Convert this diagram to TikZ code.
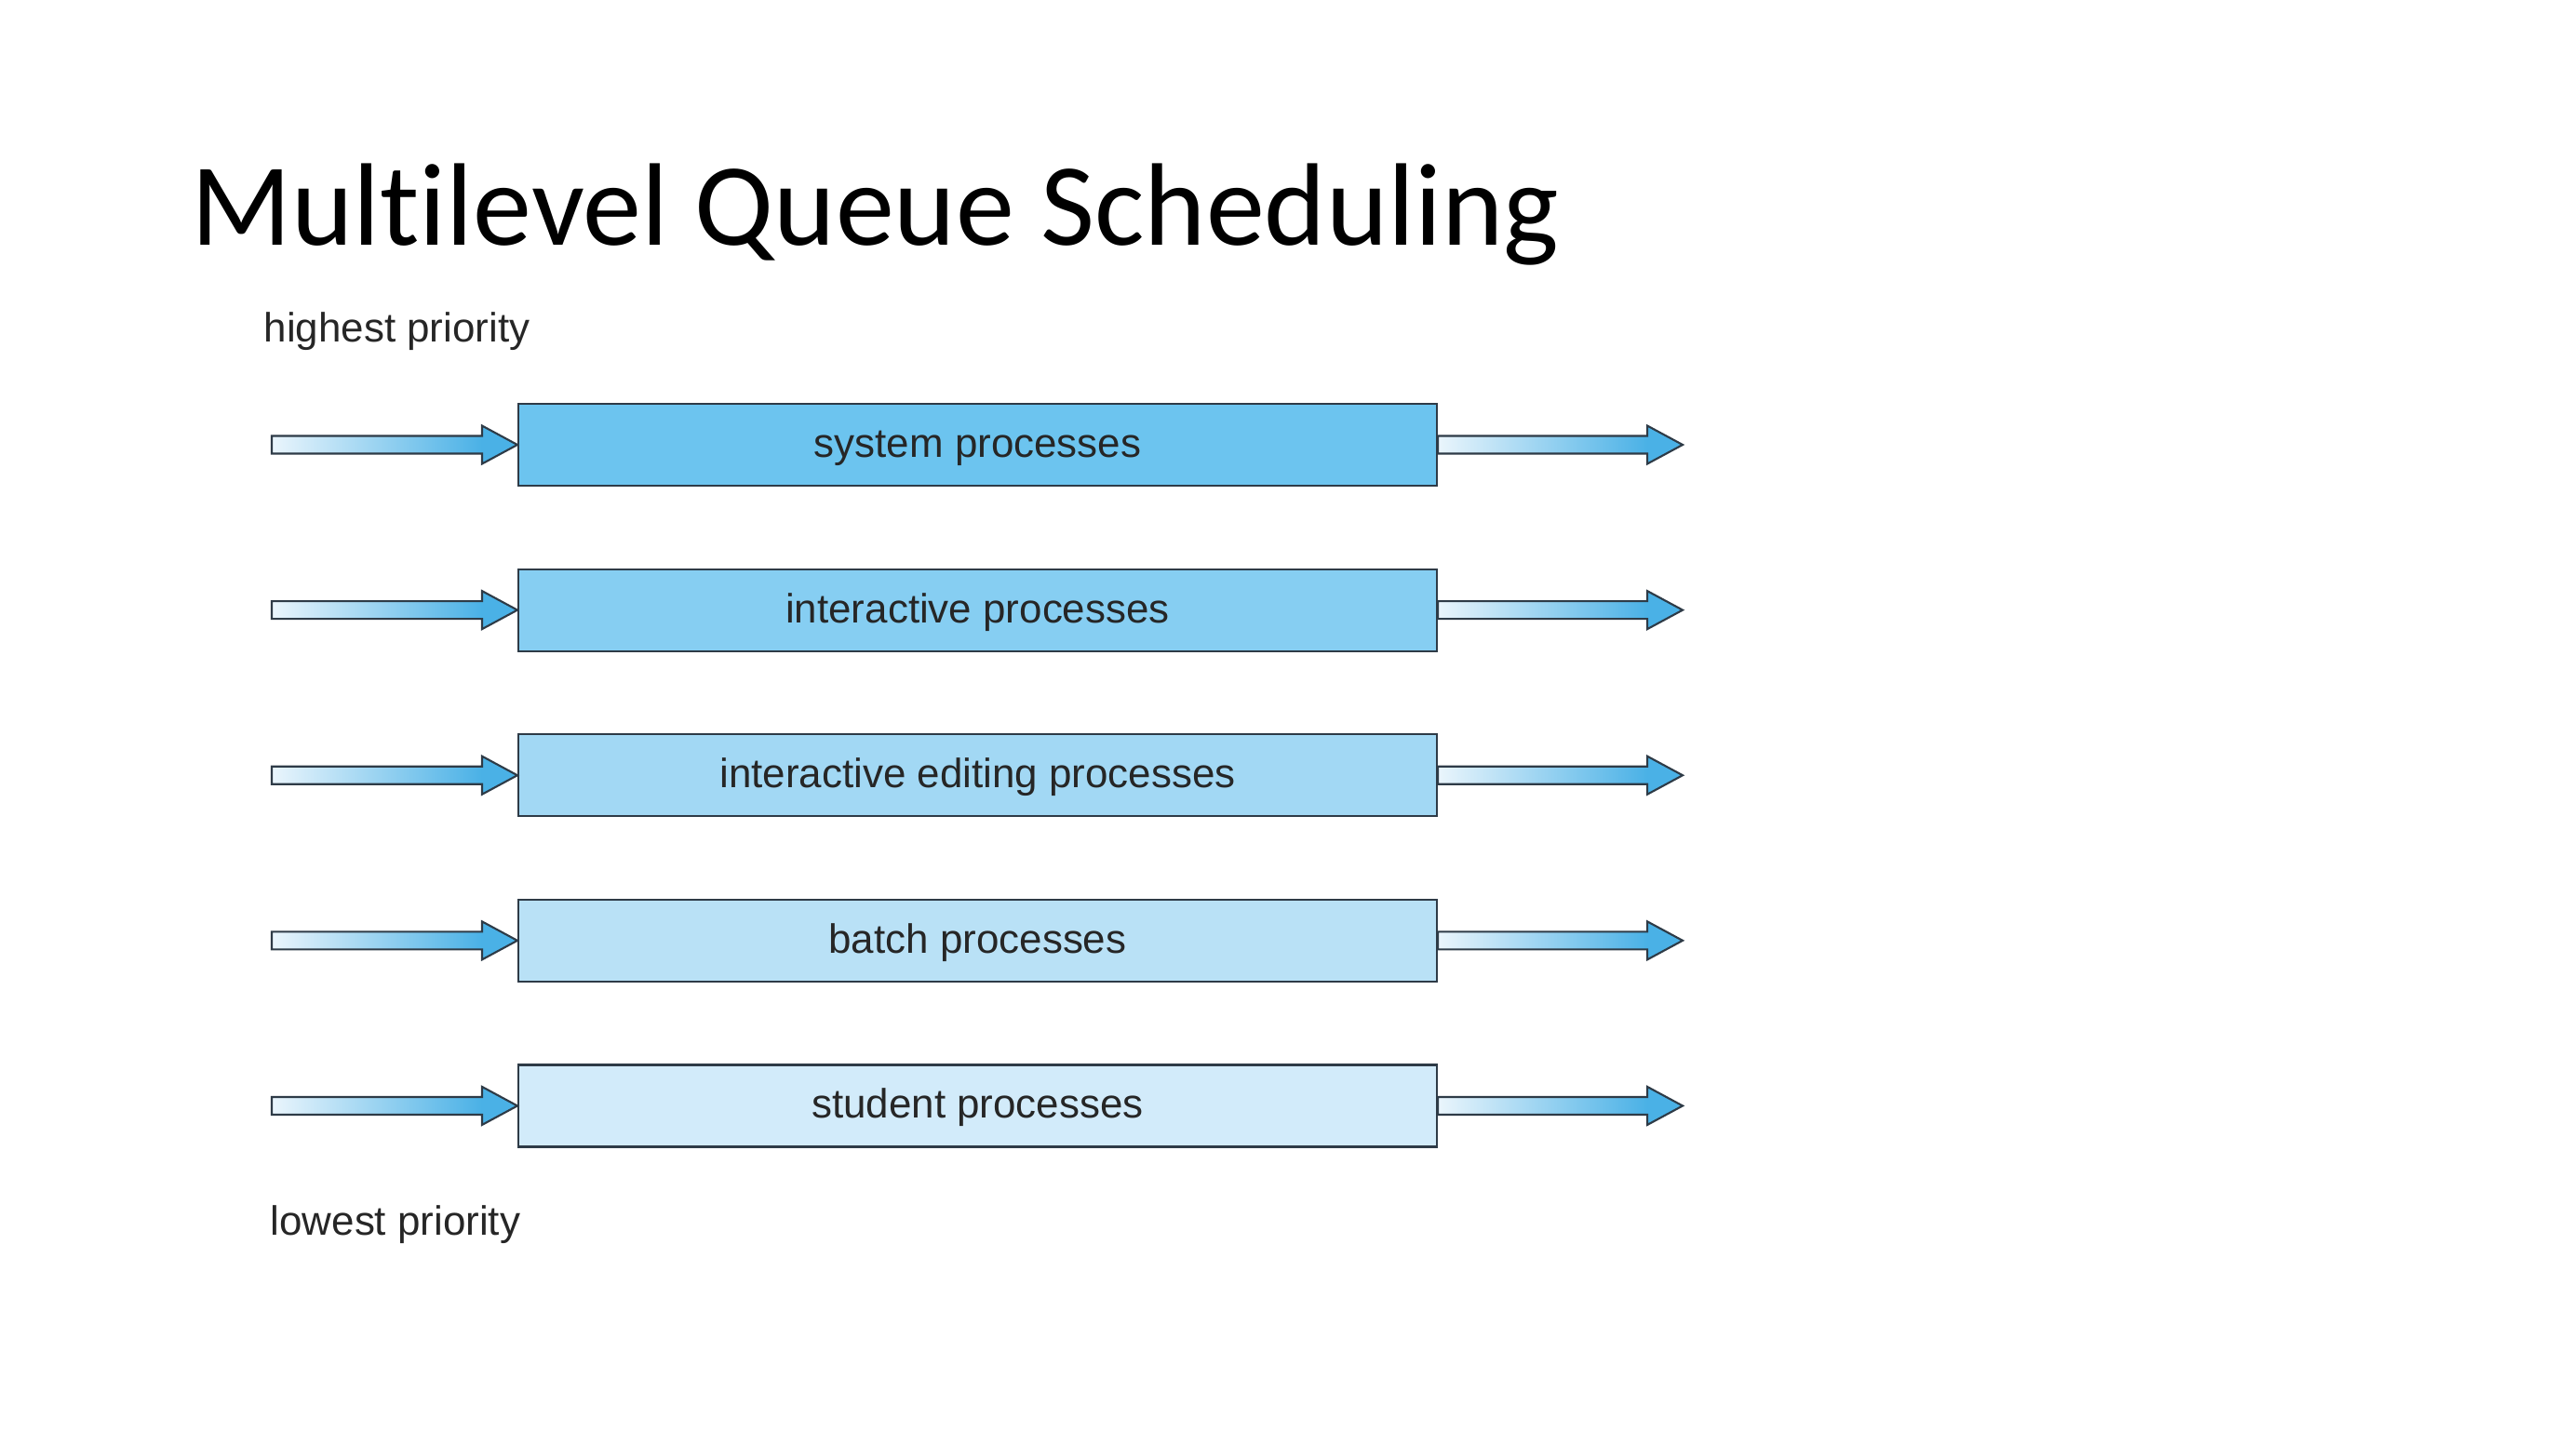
\documentclass[tikz,border=0pt]{standalone}
\usepackage{fontspec}
\setmainfont{Liberation Sans}
\newfontfamily\titlefont[Ligatures=NoCommon]{Carlito}
\usepackage{tikz}
\usetikzlibrary{positioning, calc}

\definecolor{qsys}{HTML}{6CC4EF}
\definecolor{qint}{HTML}{86CEF2}
\definecolor{qedit}{HTML}{A2D8F4}
\definecolor{qbatch}{HTML}{B9E1F6}
\definecolor{qstud}{HTML}{D2EBFA}
\definecolor{arrblue}{HTML}{4AB1E6}
\definecolor{arrlight}{HTML}{EAF5FC}
\definecolor{edgegray}{HTML}{2E3B47}

%% block arrow from #1 to #2 (horizontal)
\newcommand{\blockarrow}[2]{%
    \shade[left color=arrlight, right color=arrblue] let \p1=(#1), \p2=(#2) in
        (\x1,\y1-0.095cm) rectangle (\x2-0.38cm,\y1+0.095cm);
    \fill[arrblue] let \p1=(#1), \p2=(#2) in
        (\x2-0.38cm,\y1-0.205cm) -- (\x2,\y1) -- (\x2-0.38cm,\y1+0.205cm) -- cycle;
    \draw[edge] let \p1=(#1), \p2=(#2) in
        (\x1,\y1-0.095cm) -- (\x2-0.38cm,\y1-0.095cm) -- (\x2-0.38cm,\y1-0.205cm)
        -- (\x2,\y1) -- (\x2-0.38cm,\y1+0.205cm) -- (\x2-0.38cm,\y1+0.095cm)
        -- (\x1,\y1+0.095cm) -- cycle;
}

\begin{document}
\begin{tikzpicture}[
        every node/.style={font=\fontsize{12.5}{15}\selectfont},
        edge/.style={draw=edgegray, line width=0.6pt, line join=miter},
        qbox/.style={draw=edgegray, line width=0.6pt, minimum width=9.87cm, minimum height=0.88cm, inner sep=0pt, text height=0.32cm, text depth=0.05cm, text=black!85},
        lbl/.style={anchor=base west, text=black!85},
    ]
    \useasboundingbox (0,0) rectangle (27.68,-15.52);

    %% Title
    \node[anchor=base west, inner sep=0pt, font=\titlefont\fontsize{35.9}{40}\selectfont] (title) at (2.05,-2.63) {Multilevel Queue Scheduling};

    %% Priority labels
    \node[lbl, inner sep=0pt] (hi) at (2.83,-3.67) {highest priority};
    \node[lbl, inner sep=0pt] (lo) at (2.90,-13.27) {lowest priority};

    %% Queues
    \node[qbox, fill=qsys] (q1) at (10.505,-4.78) {system processes};
    \node[qbox, fill=qint, below=0.875cm of q1] (q2) {interactive processes};
    \node[qbox, fill=qedit, below=0.875cm of q2] (q3) {interactive editing processes};
    \node[qbox, fill=qbatch, below=0.875cm of q3] (q4) {batch processes};
    \node[qbox, fill=qstud, below=0.875cm of q4] (q5) {student processes};

    %% Arrows in and out
    \foreach \i in {1,...,5} {
        \coordinate (in\i) at ($(q\i.west)+(-2.64,0)$);
        \coordinate (out\i) at ($(q\i.east)+(2.63,0)$);
        \blockarrow{in\i}{q\i.west}
        \blockarrow{q\i.east}{out\i}
    }

\end{tikzpicture}
\end{document}
